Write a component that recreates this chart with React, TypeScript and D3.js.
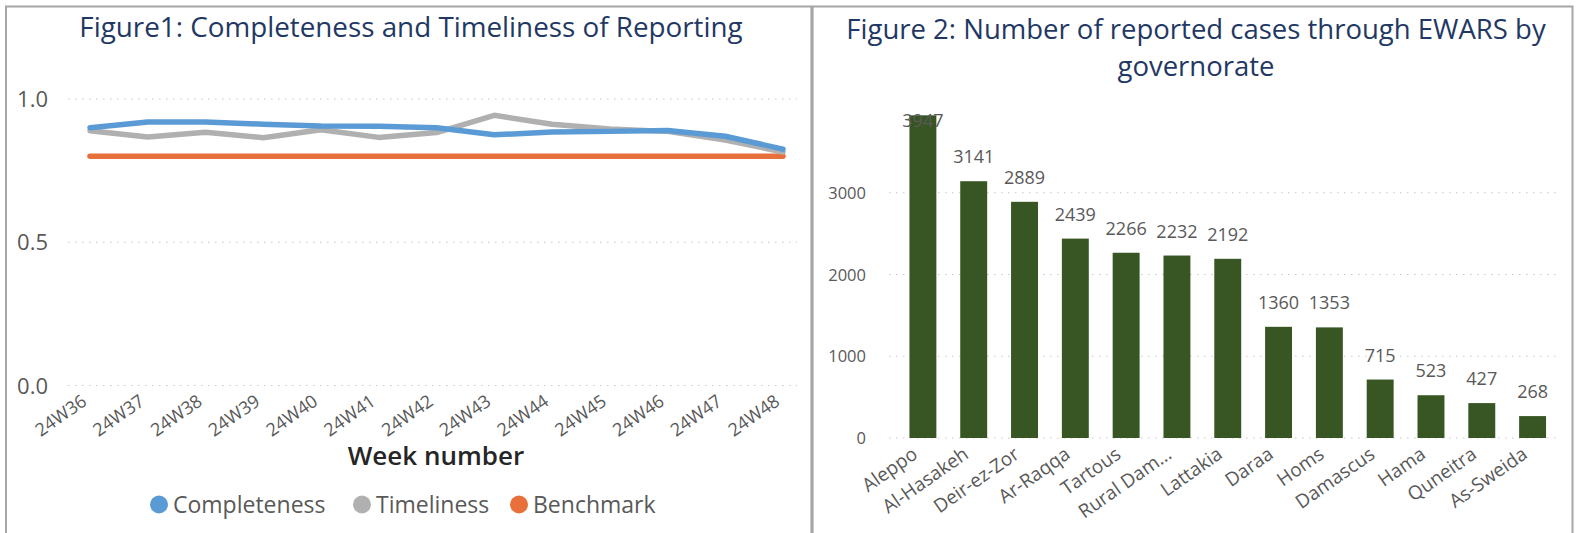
import React from "react";
import * as d3 from "d3";

// Figure 1 data
const weeks = ["24W36", "24W37", "24W38", "24W39", "24W40", "24W41", "24W42", "24W43", "24W44", "24W45", "24W46", "24W47", "24W48"];
const completeness = [0.9, 0.92, 0.92, 0.912, 0.906, 0.905, 0.9, 0.875, 0.885, 0.887, 0.89, 0.87, 0.825];
const timeliness = [0.889, 0.867, 0.884, 0.865, 0.893, 0.866, 0.883, 0.943, 0.912, 0.895, 0.887, 0.857, 0.815];
const benchmark = [0.8, 0.8, 0.8, 0.8, 0.8, 0.8, 0.8, 0.8, 0.8, 0.8, 0.8, 0.8, 0.8];
const lineTicks = [0, 0.5, 1];

// Figure 2 data
const governorates = ["Aleppo", "Al-Hasakeh", "Deir-ez-Zor", "Ar-Raqqa", "Tartous", "Rural Dam…", "Lattakia", "Daraa", "Homs", "Damascus", "Hama", "Quneitra", "As-Sweida"];
const cases = [3947, 3141, 2889, 2439, 2266, 2232, 2192, 1360, 1353, 715, 523, 427, 268];
const barTicks = [0, 1000, 2000, 3000];

const W = 1576;
const H = 533;
const FONT = "'Open Sans', 'Noto Sans', sans-serif";
const GREY_TEXT = "#595959";
const TITLE = "#1F3864";
const BORDER = "#A6A6A6";

const series = [
    {name: "Completeness", values: completeness, color: "#5B9BD5"},
    {name: "Timeliness", values: timeliness, color: "#B0B0B0"},
    {name: "Benchmark", values: benchmark, color: "#E8703A"},
];

const LineChart = () => {
    const x = d3.scalePoint().domain(weeks).range([90, 783]);
    const y = d3.scaleLinear().domain([0, 1]).range([385.5, 99]);
    const line = d3.line<number>()
        .x((d, i) => x(weeks[i]) as number)
        .y(d => y(d));
    const legendX = [159, 362, 519];

    return (
        <g>
            <text x={411} y={37} textAnchor="middle" fontSize={27.8} fill={TITLE} fontFamily={FONT}>
                Figure1: Completeness and Timeliness of Reporting
            </text>
            {lineTicks.map(t => (
                <g key={t}>
                    <line x1={68} x2={797} y1={y(t)} y2={y(t)} stroke="#C8C8C8" strokeWidth={1.2} strokeDasharray="1.5 5.5"/>
                    <text x={48} y={y(t) + 8} textAnchor="end" fontSize={22} fill={GREY_TEXT} fontFamily={FONT}>
                        {d3.format(".1f")(t)}
                    </text>
                </g>
            ))}
            {weeks.map(w => (
                <text key={w} transform={`translate(${(x(w) as number) - 2},404) rotate(-35)`} textAnchor="end"
                      fontSize={18} fill={GREY_TEXT} fontFamily={FONT}>{w}</text>
            ))}
            {[...series].reverse().map(s => (
                <path key={s.name} d={line(s.values) || ""} fill="none" stroke={s.color} strokeWidth={5.5}
                      strokeLinecap="round" strokeLinejoin="round"/>
            ))}
            <text x={436} y={465} textAnchor="middle" fontSize={26} fontWeight={600} fill="#262626" fontFamily={FONT}>
                Week number
            </text>
            {series.map((s, i) => (
                <g key={s.name}>
                    <circle cx={legendX[i]} cy={504.5} r={9} fill={s.color}/>
                    <text x={legendX[i] + 14} y={513} fontSize={23} fill={GREY_TEXT} fontFamily={FONT}>{s.name}</text>
                </g>
            ))}
        </g>
    );
};

const BarChart = () => {
    const x = d3.scaleBand().domain(governorates).range([897.5, 1558]).paddingInner(0.47).paddingOuter(0.235);
    const y = d3.scaleLinear().domain([0, 4000]).range([438, 111]);

    return (
        <g>
            <text x={1196} y={39} textAnchor="middle" fontSize={27.5} fill={TITLE} fontFamily={FONT}>
                Figure 2: Number of reported cases through EWARS by
            </text>
            <text x={1196} y={76} textAnchor="middle" fontSize={27.5} fill={TITLE} fontFamily={FONT}>
                governorate
            </text>
            {barTicks.map(t => (
                <g key={t}>
                    <line x1={889} x2={1559} y1={y(t)} y2={y(t)} stroke="#C8C8C8" strokeWidth={1.2} strokeDasharray="1.5 5.5"/>
                    <text x={866} y={y(t) + 6} textAnchor="end" fontSize={16.5} fill={GREY_TEXT} fontFamily={FONT}>{t}</text>
                </g>
            ))}
            {governorates.map((g, i) => (
                <rect key={g} x={x(g)} y={y(cases[i])} width={x.bandwidth()} height={y(0) - y(cases[i])} fill="#375623"/>
            ))}
            {governorates.map((g, i) => (
                <text key={g} x={(x(g) as number) + x.bandwidth() / 2} y={Math.max(y(cases[i]) - 18, 127)}
                      textAnchor="middle" fontSize={18} fill={GREY_TEXT} fontFamily={FONT}>{cases[i]}</text>
            ))}
            {governorates.map(g => (
                <text key={g} transform={`translate(${(x(g) as number) + x.bandwidth() / 2 - 4},457) rotate(-35)`}
                      textAnchor="end" fontSize={19} fill={GREY_TEXT} fontFamily={FONT}>{g}</text>
            ))}
        </g>
    );
};

const App = () => {
    return (
        <svg width={W} height={H} style={{position: "absolute", left: 0, top: 0, background: "#fff"}}>
            <rect x={0} y={0} width={W} height={H} fill="#fff"/>
            {/* panel borders */}
            <path d={`M6,${H} V6.5 H1572.5 V${H}`} fill="none" stroke={BORDER} strokeWidth={2}/>
            <line x1={812} x2={812} y1={6} y2={H} stroke={BORDER} strokeWidth={3.2}/>
            <LineChart/>
            <BarChart/>
        </svg>
    );
};

export default App;
